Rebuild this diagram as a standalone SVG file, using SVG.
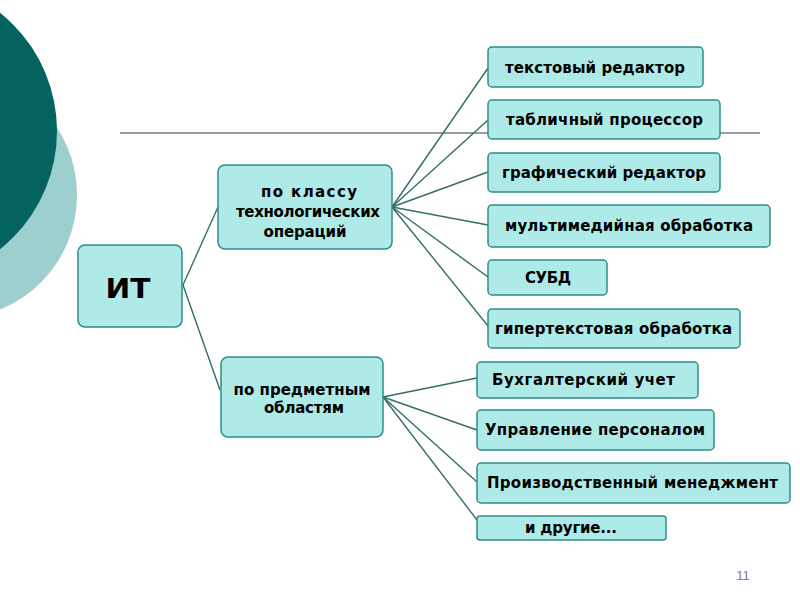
<svg xmlns="http://www.w3.org/2000/svg" width="800" height="600" viewBox="0 0 800 600">
<style>
.box{fill:#aeeae7;stroke:#2f8c86;stroke-width:1.5}
.t{font-family:"DejaVu Sans","Noto Sans",sans-serif;font-weight:bold;font-size:15px;fill:#000;text-anchor:middle}
.c{stroke:#336e6a;stroke-width:1.4;fill:none}
</style>
<rect width="800" height="600" fill="#fff"/>
<circle cx="-47" cy="195" r="124" fill="#9dcfcf"/>
<circle cx="-94" cy="131" r="151" fill="#04635f"/>
<line x1="120" y1="133" x2="760" y2="133" stroke="#7a7a7a" stroke-width="1.5"/>
<g id="connectors" class="c">
<polyline points="218,207 183,285 220,390"/>
<line x1="392" y1="207" x2="488" y2="68"/>
<line x1="392" y1="207" x2="488" y2="120"/>
<line x1="392" y1="207" x2="488" y2="172"/>
<line x1="392" y1="207" x2="488" y2="225"/>
<line x1="392" y1="207" x2="488" y2="277"/>
<line x1="392" y1="207" x2="488" y2="326"/>
<line x1="383" y1="397" x2="477" y2="378"/>
<line x1="383" y1="397" x2="477" y2="430"/>
<line x1="383" y1="397" x2="477" y2="482"/>
<line x1="383" y1="397" x2="477" y2="520"/>
</g>
<g id="it"><rect class="box" x="78" y="245" width="104" height="82" rx="7"/><text class="t" x="128" y="298" style="font-size:27px" textLength="45" lengthAdjust="spacingAndGlyphs">ИТ</text></g>
<g id="class"><rect class="box" x="218" y="165" width="174" height="84" rx="7"/>
<text class="t" x="309" y="197" textLength="96">по классу</text>
<text class="t" x="308" y="217" textLength="144">технологических</text>
<text class="t" x="305" y="237" textLength="83">операций</text></g>
<g id="subj"><rect class="box" x="221" y="357" width="162" height="80" rx="7"/>
<text class="t" x="302" y="395" textLength="137">по предметным</text>
<text class="t" x="304" y="413" textLength="80">областям</text></g>
<g id="n1"><rect class="box" x="488" y="47" width="215" height="40" rx="4"/><text class="t" x="595" y="73" textLength="180">текстовый редактор</text></g>
<g id="n2"><rect class="box" x="488" y="100" width="232" height="39" rx="4"/><text class="t" x="604.5" y="125" textLength="197">табличный процессор</text></g>
<g id="n3"><rect class="box" x="488" y="153" width="232" height="39" rx="4"/><text class="t" x="604" y="178" textLength="204">графический редактор</text></g>
<g id="n4"><rect class="box" x="488" y="205" width="282" height="42" rx="4"/><text class="t" x="629" y="231" textLength="248">мультимедийная обработка</text></g>
<g id="n5"><rect class="box" x="488" y="260" width="119" height="35" rx="4"/><text class="t" x="548" y="283" textLength="46">СУБД</text></g>
<g id="n6"><rect class="box" x="488" y="309" width="252" height="39" rx="4"/><text class="t" x="613.5" y="334" textLength="237">гипертекстовая обработка</text></g>
<g id="m1"><rect class="box" x="477" y="362" width="221" height="36" rx="4"/><text class="t" x="583.5" y="385" textLength="183">Бухгалтерский учет</text></g>
<g id="m2"><rect class="box" x="477" y="410" width="237" height="40" rx="4"/><text class="t" x="595" y="435" textLength="220">Управление персоналом</text></g>
<g id="m3"><rect class="box" x="477" y="463" width="313" height="40" rx="4"/><text class="t" x="632.5" y="488" textLength="291">Производственный менеджмент</text></g>
<g id="m4"><rect class="box" x="477" y="516" width="189" height="24" rx="3"/><text class="t" x="571" y="533" textLength="92">и другие...</text></g>
<text x="743" y="580" font-family="Liberation Sans,sans-serif" font-size="13" fill="#808080" text-anchor="middle">11</text>
</svg>
